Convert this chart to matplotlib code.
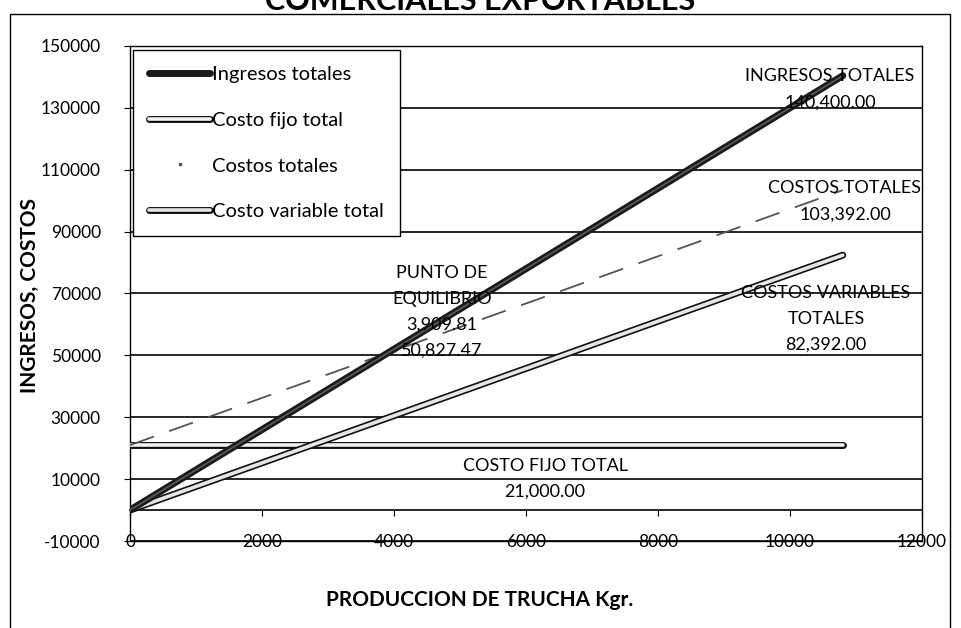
import matplotlib
matplotlib.use("Agg")
import matplotlib.pyplot as plt
import matplotlib.patheffects as pe
from matplotlib.lines import Line2D
from matplotlib.patches import Rectangle

# datos del punto de equilibrio
produccion = [0, 10800]
ingresos_totales = [0, 140400]
costo_fijo_total = [21000, 21000]
costos_totales = [21000, 103392]
costo_variable_total = [0, 82392]

punto_eq_x = 3909.81
punto_eq_y = 50827.47

y_ticks = list(range(-10000, 150001, 20000))
x_ticks = list(range(0, 12001, 2000))

plt.rcParams['font.family'] = ['Lato', 'DejaVu Sans']
plt.rcParams['axes.unicode_minus'] = False

fig = plt.figure(figsize=(9.61, 6.28), dpi=100)
ax = fig.add_axes([0.1353, 0.1385, 0.8241, 0.7883])

# lineas
ax.plot(produccion, ingresos_totales, color='#1a1a1a', lw=5,
        solid_capstyle='round', zorder=4)
ax.plot(produccion, ingresos_totales, color='#5a5a5a', lw=1.2, zorder=5)

outline = [pe.Stroke(linewidth=5, foreground='#111111'), pe.Normal()]
ax.plot(produccion, costo_fijo_total, color='#f2f2f2', lw=2.6,
        solid_capstyle='round', zorder=3, path_effects=outline)
ax.plot(produccion, costos_totales, color='#555555', lw=1.3,
        dashes=(14, 9), zorder=3)
ax.plot(produccion, costo_variable_total, color='#e6e6e6', lw=2.6,
        solid_capstyle='round', zorder=3, path_effects=outline)

ax.set_xlim(0, 12000)
ax.set_ylim(-10000, 150000)
ax.set_yticks(y_ticks)
ax.set_xticks(x_ticks)
ax.grid(axis='y', color='black', lw=1.2, zorder=1)
ax.set_axisbelow(True)
for s in ax.spines.values():
    s.set_linewidth(1.0)
ax.tick_params(axis='y', direction='out', length=4, pad=17, labelsize=12.5)
ax.tick_params(axis='x', length=0, pad=-5, labelsize=12.5)

# eje x en y=0 con marcas
sec = ax.secondary_xaxis(10000 / 160000)
sec.set_xticks(x_ticks)
sec.tick_params(axis='x', direction='out', length=4, labelbottom=False)
sec.spines['bottom'].set_linewidth(1.2)

# leyenda
h_ing = Line2D([], [], color='#1a1a1a', lw=5, solid_capstyle='round')
h_fijo = Line2D([], [], color='#f2f2f2', lw=2.6, solid_capstyle='round',
                path_effects=outline)
h_ct = Line2D([], [], color='#555555', linestyle='none', marker='s',
              markersize=1.5)
h_var = Line2D([], [], color='#e6e6e6', lw=2.6, solid_capstyle='round',
               path_effects=outline)
leg = ax.legend([h_ing, h_fijo, h_ct, h_var],
                ['Ingresos totales', 'Costo fijo total', 'Costos totales',
                 'Costo variable total'],
                loc='upper left', bbox_to_anchor=(0.004, 0.992),
                borderaxespad=0, fontsize=14.5, handlelength=3.0,
                handletextpad=0.1, labelspacing=1.42, borderpad=0.8,
                fancybox=False, framealpha=1, edgecolor='black')
leg.get_frame().set_linewidth(1.0)

# etiquetas
fs = 13
ls = 1.75
ax.text(10606, 136000, 'INGRESOS TOTALES\n{:,.2f}'.format(ingresos_totales[-1]),
        ha='center', va='center', fontsize=fs, linespacing=ls, zorder=6)
ax.text(10833, 99800, 'COSTOS TOTALES\n{:,.2f}'.format(costos_totales[-1]),
        ha='center', va='center', fontsize=fs, linespacing=ls, zorder=6)
ax.text(10545, 61760,
        'COSTOS VARIABLES\nTOTALES\n{:,.2f}'.format(costo_variable_total[-1]),
        ha='center', va='center', fontsize=fs, linespacing=ls, zorder=6)
ax.text(4727, 64000,
        'PUNTO DE\nEQUILIBRIO\n{:,.2f}\n{:,.2f}'.format(punto_eq_x, punto_eq_y),
        ha='center', va='center', fontsize=fs, linespacing=ls, zorder=6)
ax.text(6288, 10000, 'COSTO FIJO TOTAL\n{:,.2f}'.format(costo_fijo_total[0]),
        ha='center', va='center', fontsize=fs, linespacing=ls, zorder=6)

fig.text(0.4995, 0.0446, 'PRODUCCION DE TRUCHA Kgr.', ha='center',
         va='center', fontsize=15, fontweight='bold')
fig.text(0.031, 0.530, 'INGRESOS, COSTOS', ha='center', va='center',
         rotation=90, fontsize=15, fontweight='bold')

# titulo (cortado arriba)
fig.text(0.5, 1 - 10 / 628, 'COMERCIALES EXPORTABLES', ha='center',
         va='baseline', fontsize=22, fontweight='bold')

# marco exterior
fig.patches.append(Rectangle((0.0104, -0.1), 0.978, 1.0777, fill=False,
                             edgecolor='black', lw=1.0,
                             transform=fig.transFigure, figure=fig))

fig.savefig('out.png', dpi=100)
